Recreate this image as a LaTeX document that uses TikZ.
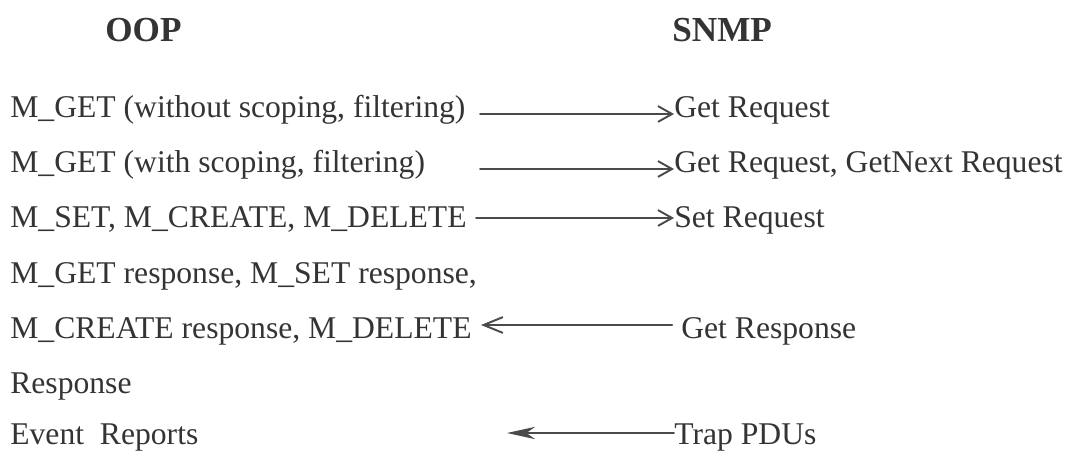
\documentclass[tikz,border=0pt]{standalone}
\usepackage{fontspec}
\setmainfont{Liberation Serif}
\usetikzlibrary{arrows.meta}
\definecolor{ink}{HTML}{343434}
\definecolor{wire}{HTML}{4A4A4A}

\begin{document}
\begin{tikzpicture}[font=\fontsize{18}{20}\selectfont,text=ink,line cap=round,
    row/.style={anchor=base west,inner sep=0pt},
    head/.style={row,font=\fontsize{20}{22}\selectfont\bfseries},
    req/.style={wire,line width=1.1pt,-{Straight Barb[length=8pt,width=9pt]}},
    resp/.style={wire,line width=1.1pt,-{Straight Barb[length=11pt,width=9pt]}},
    trapline/.style={wire,line width=1.1pt,-{Stealth[length=16pt,width=7pt,inset=5pt]}}]
  \useasboundingbox (0,0) rectangle (21.36,-9.04);

  \node[head] (oop) at (2.10,-0.84) {OOP};
  \node[head] (snmp) at (13.44,-0.84) {SNMP};

  % OOP operations
  \node[row] (mget) at (0.2,-2.36) {M\_GET (without scoping, filtering)};
  \node[row] (mgetsc) at (0.2,-3.46) {M\_GET (with scoping, filtering)};
  \node[row] (mset) at (0.2,-4.56) {M\_SET, M\_CREATE, M\_DELETE};
  \node[row] (mresp) at (0.2,-5.66) {M\_GET response, M\_SET response,};
  \node[row] (mcreate) at (0.2,-6.76) {M\_CREATE response, M\_DELETE};
  \node[row] (mdel) at (0.2,-7.86) {Response};
  \node[row] (event) at (0.2,-8.88) {Event\ \ Reports};

  % SNMP messages
  \node[row] (getreq) at (13.48,-2.36) {Get Request};
  \node[row] (getnext) at (13.48,-3.46) {Get Request, GetNext Request};
  \node[row] (setreq) at (13.48,-4.56) {Set Request};
  \node[row] (getresp) at (13.62,-6.76) {Get Response};
  \node[row] (trap) at (13.48,-8.88) {Trap PDUs};

  \coordinate (s1) at (9.60,-2.28);
  \coordinate (s2) at (9.60,-3.38);
  \coordinate (s3) at (9.52,-4.36);
  \coordinate (t5) at (9.62,-6.50);
  \coordinate (t7) at (10.14,-8.66);

  \draw[req] (s1) -- (s1 -| getreq.west);
  \draw[req] (s2) -- (s2 -| getnext.west);
  \draw[req] (s3) -- (s3 -| setreq.west);
  \draw[resp,shorten <=5pt] (getresp.west |- t5) -- (t5);
  \draw[trapline] (trap.west |- t7) -- (t7);
\end{tikzpicture}
\end{document}
